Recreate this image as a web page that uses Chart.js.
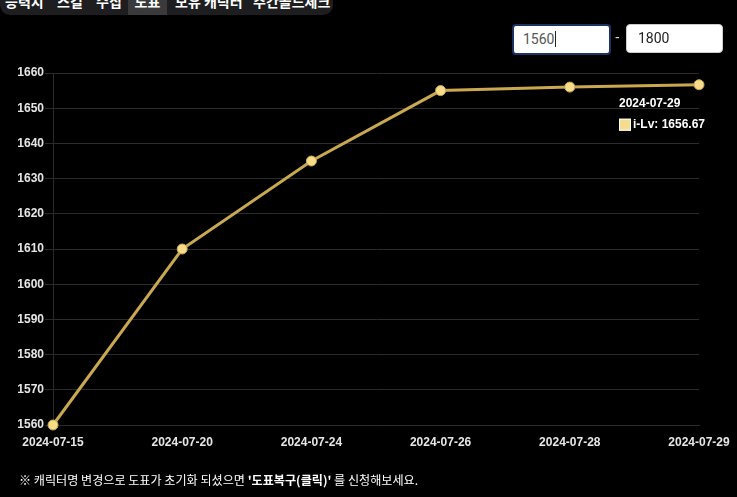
<!DOCTYPE html>
<html>
<head>
<meta charset="utf-8">
<script src="https://cdn.jsdelivr.net/npm/chart.js@4.4.0/dist/chart.umd.min.js"></script>
<style>
  html, body { margin:0; padding:0; background:#000; width:737px; height:497px; overflow:hidden; font-family: Arial, "Liberation Sans", "Noto Sans CJK KR", sans-serif; }
  #tabs { position:absolute; left:0; top:-12px; width:333px; height:27px; background:#1e1e20; border-radius:0 0 10px 10px; overflow:hidden; }
  .tab { position:absolute; top:0; height:30px; line-height:27px; color:#fff; font-weight:bold; font-size:14px; font-family:"Noto Sans CJK KR", sans-serif; }
  .tab.active { background:#3a3a3c; top:0; height:27px; }
  .box { position:absolute; background:#fff; border-radius:4px; box-sizing:border-box; font-family: Roboto, Arial, sans-serif; font-size:14px; }
  #b1 { left:512px; top:24px; width:99px; height:31px; border:2px solid #1c3260; color:#555; padding-left:9px; line-height:27px; }
  #b2 { left:626px; top:24px; width:97px; height:29px; border:1px solid #ccc; color:#222; padding-left:11px; line-height:27px; }
  #dash { position:absolute; left:615px; top:29px; color:#ddd; font-size:14px; }
  #caret { display:inline-block; width:1px; height:16px; background:#222; vertical-align:middle; margin-left:1px; margin-top:-2px; }
  #note { position:absolute; left:19px; top:471px; color:#fff; font-size:12.1px; font-family:"Noto Sans CJK KR", sans-serif; white-space:nowrap; }
  #c { position:absolute; left:0; top:0; }
</style>
</head>
<body>
<div id="tabs">
  <div class="tab" style="left:5px;">능력치</div>
  <div class="tab" style="left:57px;">스킬</div>
  <div class="tab" style="left:96px;">수집</div>
  <div class="tab active" style="left:128px;width:39px;text-align:center;">도표</div>
  <div class="tab" style="left:175px;">보유 캐릭터</div>
  <div class="tab" style="left:253px;">주간골드체크</div>
</div>
<canvas id="c" width="737" height="497"></canvas>
<div class="box" id="b1">1560<span id="caret"></span></div>
<div id="dash">-</div>
<div class="box" id="b2">1800</div>
<div id="note">※ 캐릭터명 변경으로 도표가 초기화 되셨으면 <b>'도표복구(클릭)'</b> 를 신청해보세요.</div>
<script>
const categories = ['2024-07-15','2024-07-20','2024-07-24','2024-07-26','2024-07-28','2024-07-29'];
const itemLevels = [1560, 1610, 1635, 1655, 1656, 1656.67];
const seriesLabel = 'i-Lv';
const yMin = 1560, yMax = 1660, yStep = 10;
const tooltipIndex = 5;

const tooltipPlugin = {
  id: 'fixedTooltip',
  afterDraw(chart) {
    const meta = chart.getDatasetMeta(0);
    const pt = meta.data[tooltipIndex];
    if (!pt) return;
    const ctx = chart.ctx;
    const x0 = pt.x - 80, y0 = pt.y;
    ctx.save();
    ctx.textBaseline = 'middle';
    ctx.textAlign = 'left';
    ctx.fillStyle = '#fff';
    ctx.font = 'bold 12px Arial, "Liberation Sans", sans-serif';
    ctx.fillText(categories[tooltipIndex], x0, y0 + 19);
    ctx.fillStyle = '#f7dc90';
    ctx.fillRect(x0, y0 + 34, 12, 12);
    ctx.strokeStyle = '#fff';
    ctx.lineWidth = 1;
    ctx.strokeRect(x0 + 0.5, y0 + 34.5, 11, 11);
    ctx.fillStyle = '#fff';
    ctx.font = 'bold 12px Arial, "Liberation Sans", sans-serif';
    ctx.fillText(seriesLabel + ': ' + itemLevels[tooltipIndex], x0 + 14, y0 + 40);
    ctx.restore();
  }
};

new Chart(document.getElementById('c'), {
  type: 'line',
  data: {
    labels: categories,
    datasets: [{
      label: seriesLabel,
      data: itemLevels,
      borderColor: '#c9a84f',
      backgroundColor: '#f7dc8c',
      pointBackgroundColor: '#f7dc8c',
      pointBorderColor: '#c9a84f',
      pointBorderWidth: 1,
      pointRadius: 5,
      borderWidth: 3,
      tension: 0,
      fill: false,
      clip: false
    }]
  },
  options: {
    responsive: false,
    animation: false,
    layout: { padding: { left: 15, right: 38, top: 73, bottom: 42 } },
    plugins: { legend: { display: false }, tooltip: { enabled: false } },
    scales: {
      x: {
        grid: { display: false, drawTicks: false },
        border: { display: true, color: '#2b2b2b' },
        ticks: { color: '#e6e6e6', font: { size: 12, family: 'Arial, "Liberation Sans", sans-serif', weight: 'bold' }, padding: 10, maxRotation: 0, autoSkip: false },
        afterFit: s => { s.height = 30; s.paddingLeft = 0; s.paddingRight = 0; }
      },
      y: {
        min: yMin, max: yMax,
        grid: { color: '#2b2b2b', tickLength: 8 },
        border: { display: true, color: '#2b2b2b' },
        ticks: { stepSize: yStep, color: '#e6e6e6', font: { size: 12, family: 'Arial, "Liberation Sans", sans-serif', weight: 'bold' }, padding: 1, callback: v => String(v) },
        afterFit: s => { s.width = 38; s.paddingTop = 0; s.paddingBottom = 0; }
      }
    }
  },
  plugins: [tooltipPlugin]
});
</script>
</body>
</html>
